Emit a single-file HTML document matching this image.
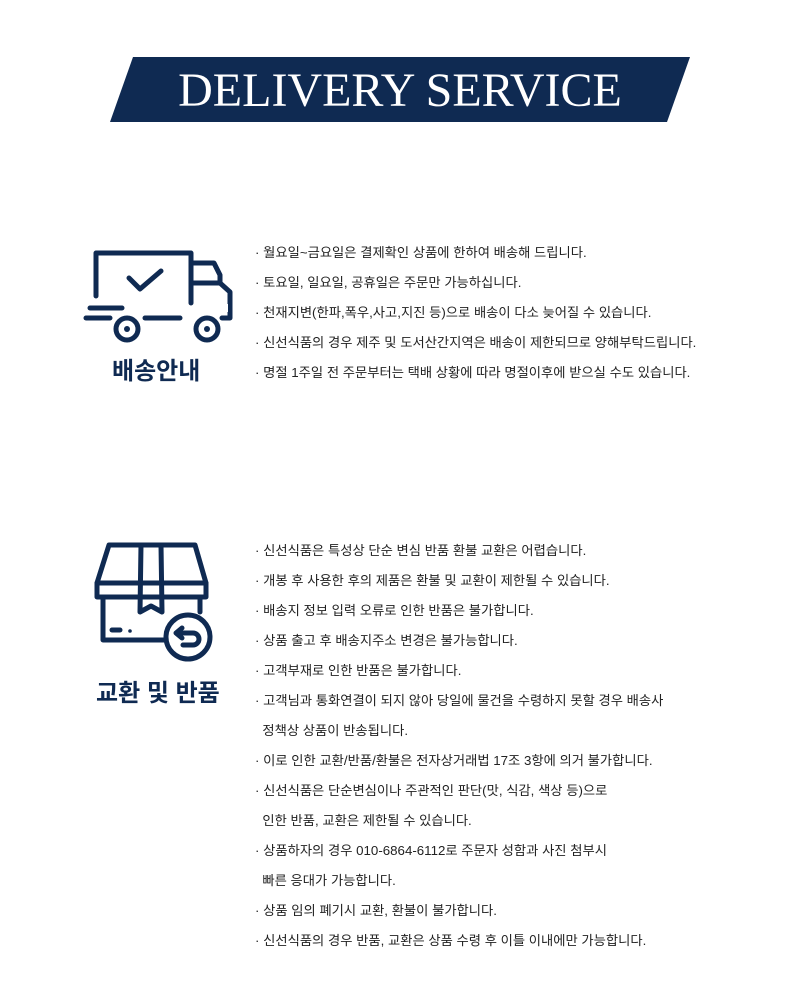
<!DOCTYPE html>
<html><head><meta charset="utf-8"><style>
body{margin:0;width:800px;height:1000px;background:#fff;position:relative;font-family:"Liberation Sans","Noto Sans CJK KR",sans-serif;overflow:hidden}
.t{position:absolute;left:255px;font-size:13.3px;color:#222;white-space:nowrap;line-height:16px}
.lbl{position:absolute;font-size:24px;font-weight:bold;color:#0f2a52;white-space:nowrap}
</style></head><body>
<svg width="800" height="1000" style="position:absolute;left:0;top:0">
<polygon points="133,57 690,57 667,122 110,122" fill="#0f2a52"/>
<text x="400" y="106" text-anchor="middle" font-family="Liberation Serif,serif" font-size="48" fill="#fff">DELIVERY SERVICE</text>
<g fill="none" stroke="#0f2a52" stroke-width="5" stroke-linecap="round" stroke-linejoin="round">
<path d="M96,296 V253 H191 V303"/>
<path d="M191,263 H214 L220,275 V283 L230,292 V318 H222"/>
<line x1="191" y1="283" x2="220" y2="283"/>
<polyline points="129,278 140,289 161,271"/>
<line x1="90" y1="308" x2="122" y2="308"/>
<line x1="86" y1="318" x2="110" y2="318"/>
<line x1="145" y1="318" x2="180" y2="318"/>
<circle cx="127" cy="329" r="11"/><circle cx="207" cy="329" r="11"/>
<path d="M109,545 H195 L206,583 H97 Z"/>
<rect x="97" y="583" width="109" height="14"/>
<path d="M103,597 V640 H165"/>
<path d="M200,597 V612"/>
<path d="M141,545 L140,612 L151,606 L162,612 L161,545"/>
<line x1="112" y1="630" x2="120" y2="630"/>
<circle cx="188" cy="637" r="22"/>
<path d="M182,628 L176,633 L182,638 M176,633 H193 A6,6 0 0 1 193,645 H183"/>
</g>
<rect x="223" y="304" width="5" height="8" fill="#fff"/>
<circle cx="130" cy="631" r="1.8" fill="#0f2a52"/>
<circle cx="127" cy="329" r="3" fill="#0f2a52"/><circle cx="207" cy="329" r="3" fill="#0f2a52"/>
</svg>
<div class="lbl" style="left:112px;top:351px">배송안내</div>
<div class="lbl" style="left:96px;top:673px">교환 및 반품</div>
<div class="t" style="top:245px">· 월요일~금요일은 결제확인 상품에 한하여 배송해 드립니다.</div>
<div class="t" style="top:275px">· 토요일, 일요일, 공휴일은 주문만 가능하십니다.</div>
<div class="t" style="top:305px">· 천재지변(한파,폭우,사고,지진 등)으로 배송이 다소 늦어질 수 있습니다.</div>
<div class="t" style="top:335px">· 신선식품의 경우 제주 및 도서산간지역은 배송이 제한되므로 양해부탁드립니다.</div>
<div class="t" style="top:365px">· 명절 1주일 전 주문부터는 택배 상황에 따라 명절이후에 받으실 수도 있습니다.</div>
<div class="t" style="top:543px">· 신선식품은 특성상 단순 변심 반품 환불 교환은 어렵습니다.</div>
<div class="t" style="top:573px">· 개봉 후 사용한 후의 제품은 환불 및 교환이 제한될 수 있습니다.</div>
<div class="t" style="top:603px">· 배송지 정보 입력 오류로 인한 반품은 불가합니다.</div>
<div class="t" style="top:633px">· 상품 출고 후 배송지주소 변경은 불가능합니다.</div>
<div class="t" style="top:663px">· 고객부재로 인한 반품은 불가합니다.</div>
<div class="t" style="top:693px">· 고객님과 통화연결이 되지 않아 당일에 물건을 수령하지 못할 경우 배송사</div>
<div class="t" style="top:723px">&nbsp;&nbsp;정책상 상품이 반송됩니다.</div>
<div class="t" style="top:753px">· 이로 인한 교환/반품/환불은 전자상거래법 17조 3항에 의거 불가합니다.</div>
<div class="t" style="top:783px">· 신선식품은 단순변심이나 주관적인 판단(맛, 식감, 색상 등)으로</div>
<div class="t" style="top:813px">&nbsp;&nbsp;인한 반품, 교환은 제한될 수 있습니다.</div>
<div class="t" style="top:843px">· 상품하자의 경우 010-6864-6112로 주문자 성함과 사진 첨부시</div>
<div class="t" style="top:873px">&nbsp;&nbsp;빠른 응대가 가능합니다.</div>
<div class="t" style="top:903px">· 상품 임의 폐기시 교환, 환불이 불가합니다.</div>
<div class="t" style="top:933px">· 신선식품의 경우 반품, 교환은 상품 수령 후 이틀 이내에만 가능합니다.</div>
</body></html>
